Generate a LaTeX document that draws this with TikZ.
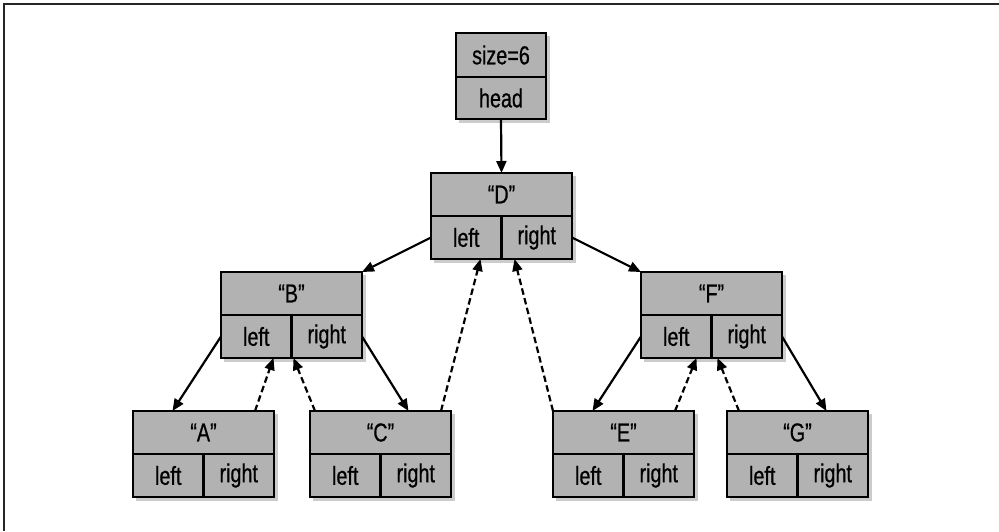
\documentclass[tikz,border=0pt]{standalone}
\usepackage{fontspec}
\setmainfont[FakeStretch=0.76,FakeBold=0.6]{Liberation Sans}
\usetikzlibrary{arrows.meta,shadows}
\definecolor{boxgray}{RGB}{178,178,178}
\tikzset{
  cell/.style={draw=black, fill=boxgray, line width=2.3pt, inner sep=0pt, outer sep=0pt,
    font=\fontsize{26}{28}\selectfont, minimum height=43pt},
  shad/.style={fill=black, opacity=0.2},
  conn/.style={line width=2.2pt, -{Triangle[length=12pt,width=10pt]}},
  back/.style={conn, dash pattern=on 6.5pt off 3.5pt}
}
\newcommand\tbox[4]{%
  \fill[shad] (#3+3,#4+3) rectangle (#3+145,#4+90);
  \node[cell, minimum width=141pt, anchor=north west] (#1) at (#3,#4) {#2};
  \node[cell, minimum width=70.5pt, anchor=north west] (#1l) at (#1.south west) {left};
  \node[cell, minimum width=70.5pt, anchor=north east] (#1r) at (#1.south east) {right};
}
\begin{document}
\begin{tikzpicture}[x=1pt,y=-1pt]
\useasboundingbox (0,0) rectangle (999,531);
\draw[line width=1.6pt, black!85] (4,531) -- (4,4) -- (999,4);
% head
\fill[shad] (459,36) rectangle (550,123);
\node[cell, minimum width=90pt, minimum height=44pt, anchor=north west] (size) at (456,33) {size=6};
\node[cell, minimum width=90pt, minimum height=42pt, anchor=north] (head) at (size.south) {head};
% tree nodes
\tbox{D}{“D”}{431}{173}
\tbox{B}{“B”}{221}{272}
\tbox{F}{“F”}{641}{272}
\tbox{A}{“A”}{133}{411}
\tbox{C}{“C”}{310}{411}
\tbox{E}{“E”}{553}{411}
\tbox{G}{“G”}{727}{411}
% solid links
\draw[conn] (head.south) -- (D.north);
\draw[conn] (Dl.west) -- (B.north east);
\draw[conn] (Dr.east) -- (F.north west);
\draw[conn] (Bl.west) -- ([xshift=-31pt]A.north);
\draw[conn] (Br.east) -- ([xshift=28pt]C.north);
\draw[conn] (Fl.west) -- ([xshift=-31pt]E.north);
\draw[conn] (Fr.east) -- ([xshift=29pt]G.north);
% dashed back links
\draw[back] ([xshift=-19pt]A.north east) -- ([xshift=-18pt]Bl.south east);
\draw[back] ([xshift=5pt]C.north west) -- ([xshift=2pt]Br.south west);
\draw[back] ([xshift=-10pt]C.north east) -- ([xshift=-21pt]Dl.south east);
\draw[back] ([xshift=0pt]E.north west) -- ([xshift=13pt]Dr.south west);
\draw[back] ([xshift=-19pt]E.north east) -- ([xshift=-15pt]Fl.south east);
\draw[back] ([xshift=12pt]G.north west) -- ([xshift=6pt]Fr.south west);
\end{tikzpicture}
\end{document}
